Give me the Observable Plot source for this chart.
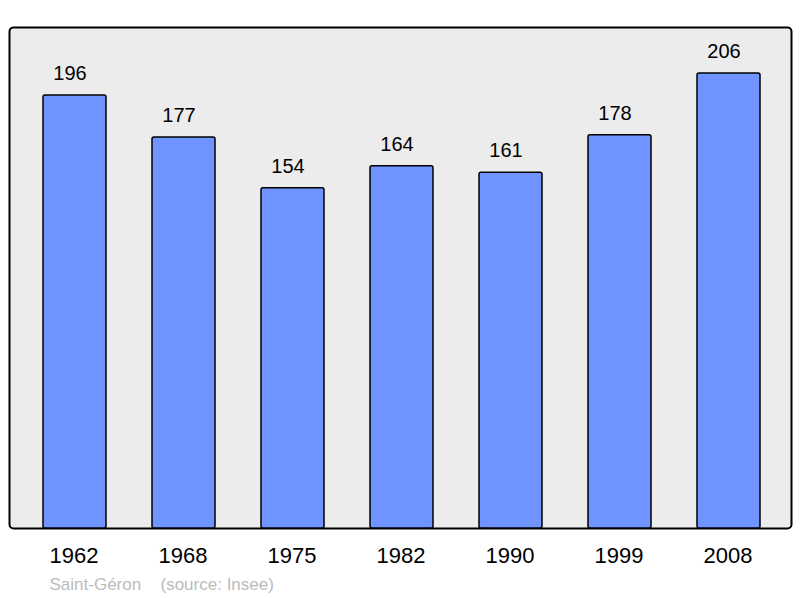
<!DOCTYPE html>
<html>
<head>
<meta charset="utf-8">
<script src="https://cdn.jsdelivr.net/npm/d3@7"></script>
<script src="https://cdn.jsdelivr.net/npm/@observablehq/plot@0.6"></script>
<style>
  html, body { margin: 0; padding: 0; background: #ffffff; }
</style>
</head>
<body>
<div id="chart"></div>
<script>
const years = ["1962", "1968", "1975", "1982", "1990", "1999", "2008"];
const population = [196, 177, 154, 164, 161, 178, 206];
const commune = "Saint-Géron";
const source = "(source: Insee)";

const data = years.map((y, i) => ({year: y, value: population[i]}));

const chart = Plot.plot({
  width: 800,
  height: 598,
  marginLeft: 9,
  marginRight: 9,
  marginTop: 27,
  marginBottom: 70,
  style: {fontFamily: "'Liberation Sans', Arial, sans-serif", background: "white"},
  x: {type: "band", domain: years, range: [9.2, 794.4], paddingInner: 0.424, paddingOuter: 0.3, axis: null},
  y: {domain: [0, 226.8], axis: null},
  marks: [
    Plot.frame({fill: "#ececec", stroke: "#000", strokeWidth: 2, rx: 4}),
    Plot.barY(data, {x: "year", y: "value", fill: "#7094ff", stroke: "#000", strokeWidth: 1.5, rx: 2}),
    Plot.text(data, {x: "year", y: "value", text: d => String(d.value), dx: -5, dy: -22, fontSize: 20, fill: "#000"}),
    Plot.text(years, {x: d => d, text: d => d, frameAnchor: "bottom", dx: -1, dy: 34, fontSize: 22, fill: "#000"}),
    Plot.text([commune], {frameAnchor: "bottom-left", text: d => d, dx: 40, dy: 61, fontSize: 17, fill: "#bbbbbb", textAnchor: "start"}),
    Plot.text([source], {frameAnchor: "bottom-left", text: d => d, dx: 151, dy: 61, fontSize: 17, fill: "#bbbbbb", textAnchor: "start"})
  ]
});
document.getElementById("chart").appendChild(chart);
</script>
</body>
</html>
